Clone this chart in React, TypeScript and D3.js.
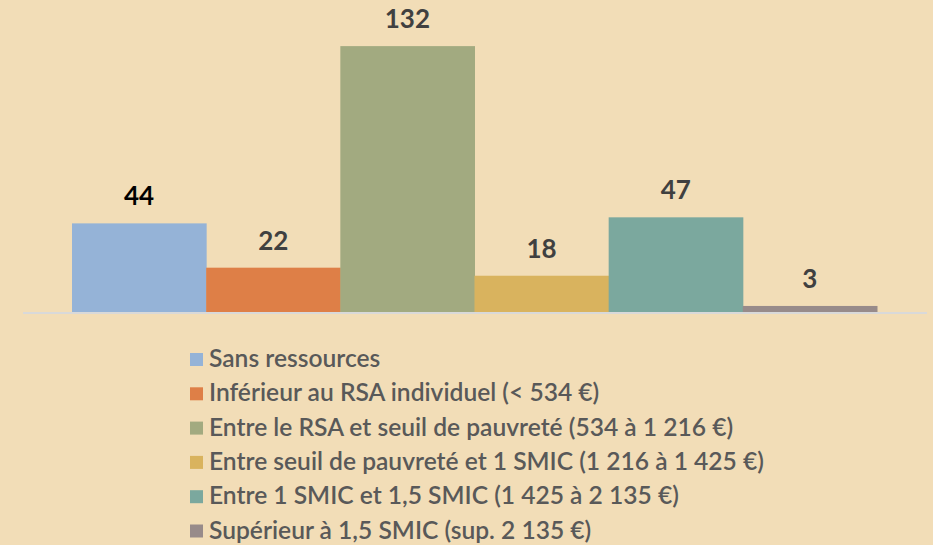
import * as d3 from "d3";
import { useEffect, useRef } from "react";

const categories = [
  "Sans ressources",
  "Inférieur au RSA individuel (< 534 €)",
  "Entre le RSA et seuil de pauvreté (534 à 1 216 €)",
  "Entre seuil de pauvreté et 1 SMIC (1 216 à 1 425 €)",
  "Entre 1 SMIC et 1,5 SMIC (1 425 à 2 135 €)",
  "Supérieur à 1,5 SMIC (sup. 2 135 €)",
];
const values = [44, 22, 132, 18, 47, 3];
const colors = ["#95B3D7", "#DE7F47", "#A2AA80", "#D9B35E", "#7BA89E", "#988B8A"];
const labelColors = ["#000000", "#404040", "#404040", "#404040", "#404040", "#404040"];

const width = 933;
const height = 545;
const font = "Lato, 'Open Sans', sans-serif";

export default function App() {
  const ref = useRef<SVGSVGElement>(null);

  useEffect(() => {
    const svg = d3.select(ref.current);
    svg.selectAll("*").remove();

    svg.append("rect").attr("width", width).attr("height", height).attr("fill", "#F2DDB7");

    const x = d3.scaleBand<number>().domain(d3.range(values.length)).range([72, 877]).padding(0);
    const y = d3.scaleLinear().domain([0, 140]).range([312, 30]);

    // bars
    svg.append("g")
      .selectAll("rect")
      .data(values)
      .enter()
      .append("rect")
      .attr("x", (_, i) => x(i)!)
      .attr("y", d => y(d))
      .attr("width", x.bandwidth() + 0.5)
      .attr("height", d => y(0) - y(d))
      .attr("fill", (_, i) => colors[i]);

    // axis line
    svg.append("line")
      .attr("x1", 23).attr("x2", 927)
      .attr("y1", y(0) + 1).attr("y2", y(0) + 1)
      .attr("stroke", "#D9D9D9")
      .attr("stroke-width", 2);

    // value labels
    svg.append("g")
      .selectAll("text")
      .data(values)
      .enter()
      .append("text")
      .attr("x", (_, i) => x(i)! + x.bandwidth() / 2)
      .attr("y", d => y(d) - 18)
      .attr("text-anchor", "middle")
      .attr("font-family", font)
      .attr("font-weight", 700)
      .attr("font-size", 26)
      .attr("fill", (_, i) => labelColors[i])
      .text(d => d);

    // legend
    const legend = svg.append("g")
      .selectAll("g")
      .data(categories)
      .enter()
      .append("g")
      .attr("transform", (_, i) => `translate(190,${367 + i * 34.3})`);

    legend.append("rect")
      .attr("x", 0)
      .attr("y", -14)
      .attr("width", 13)
      .attr("height", 13)
      .attr("fill", (_, i) => colors[i]);

    legend.append("text")
      .attr("x", 19)
      .attr("y", 0)
      .attr("font-family", font)
      .attr("font-weight", 600)
      .attr("font-size", 24.6)
      .attr("fill", "#595959")
      .text(d => d);
  }, []);

  return (
    <svg
      ref={ref}
      width={width}
      height={height}
      style={{ position: "fixed", left: 0, top: 0, display: "block" }}
    ></svg>
  );
}
